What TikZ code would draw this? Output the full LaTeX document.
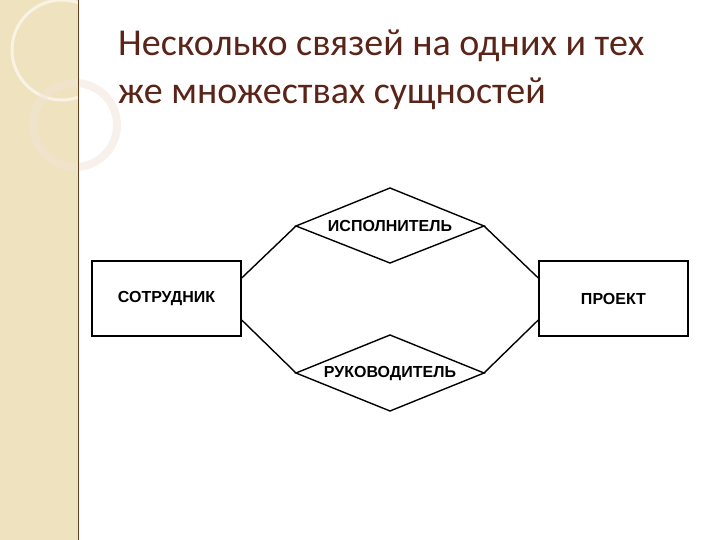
\documentclass[tikz,border=0pt]{standalone}
\usepackage{fontspec}
\setmainfont{Carlito}
\newfontfamily\lab{Liberation Sans}
\definecolor{strip}{HTML}{EFE2BF}
\definecolor{ttl}{HTML}{5A2418}
\begin{document}
\begin{tikzpicture}[x=1pt,y=-1pt,
  ent/.style={draw,line width=1.4pt,minimum width=149pt,minimum height=75pt,inner sep=0pt,font=\lab\bfseries\fontsize{16}{18}\selectfont},
  rel/.style={draw,line width=1.4pt},
  lnk/.style={line width=1.4pt},
  rlab/.style={font=\lab\bfseries\fontsize{16}{18}\selectfont}]
\useasboundingbox (0,0) rectangle (720,540);
\fill[white] (0,0) rectangle (720,540);
\fill[strip] (0,0) rectangle (78,540);
\draw[white,line width=3pt,opacity=0.6] (62,50) circle (50);
\draw[brown!20!white,line width=8pt,opacity=0.5] (75,125) circle (42);
\draw[brown!50!black,line width=1pt] (78,0) -- (78,540);
\node[anchor=base west,align=left,text=ttl,font=\fontsize{38}{48}\selectfont,inner sep=0pt] (title) at (118,104)
{Несколько связей на одних и тех\\же множествах сущностей};
\node[ent] (emp) at (166.5,298.5) {СОТРУДНИК};
\node[ent] (prj) at (613.5,298.5) {ПРОЕКТ};
\coordinate (tl) at (296,226); \coordinate (tt) at (390,188);
\coordinate (tr) at (484,226); \coordinate (tb) at (390,263);
\coordinate (bl) at (296,373); \coordinate (bt) at (390,335);
\coordinate (br) at (484,373); \coordinate (bb) at (390,411);
\draw[rel] (tl) -- (tt) -- (tr) -- (tb) -- cycle;
\draw[rel] (bl) -- (bt) -- (br) -- (bb) -- cycle;
\node[rlab] (isp) at (390,226) {ИСПОЛНИТЕЛЬ};
\node[rlab] (ruk) at (390,374) {РУКОВОДИТЕЛЬ};
\draw[lnk] (emp.north east |- 0,278) -- (tl);
\draw[lnk] (emp.north east |- 0,320) -- (bl);
\draw[lnk] (prj.north west |- 0,278) -- (tr);
\draw[lnk] (prj.north west |- 0,320) -- (br);
\end{tikzpicture}
\end{document}
